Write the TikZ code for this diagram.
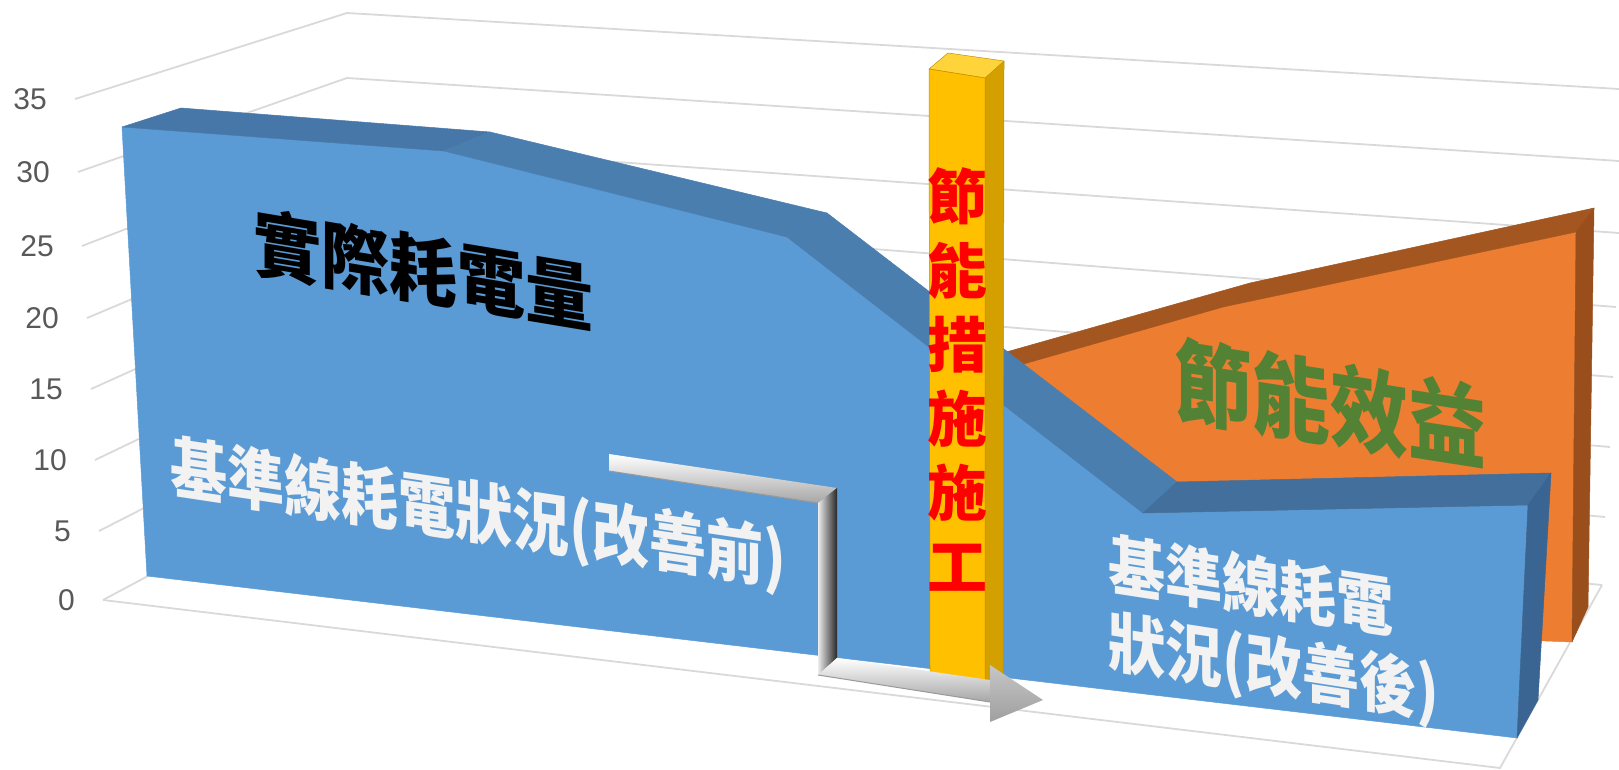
\documentclass[tikz,border=0pt]{standalone}
\usepackage{xcolor}
\usepackage{fontspec}
\usepackage{tikz}
\setmainfont{Liberation Sans}
\newfontfamily\cjk{Noto Sans CJK TC}
\definecolor{gridgray}{HTML}{D9D9D9}
\definecolor{axisgray}{HTML}{595959}
\definecolor{blueface}{HTML}{5B9BD5}
\definecolor{bluetopa}{HTML}{4677A8}
\definecolor{bluetopb}{HTML}{4A7EAF}
\definecolor{bluetopc}{HTML}{426F9B}
\definecolor{blueside}{HTML}{3A6592}
\definecolor{orangeface}{HTML}{ED7D31}
\definecolor{orangetop}{HTML}{A3561F}
\definecolor{orangeside}{HTML}{9A4E1B}
\definecolor{barface}{HTML}{FFC000}
\definecolor{barside}{HTML}{D4A000}
\definecolor{bartop}{HTML}{FFD43B}
\definecolor{baredge}{HTML}{BF9000}
\definecolor{savegreen}{HTML}{548235}
\definecolor{labelwhite}{HTML}{F2F2F2}
\tikzstyle{gridline} = [draw=gridgray, line width=1.8pt]
\tikzstyle{ticklabel} = [text=axisgray, font=\fontsize{30}{36}\selectfont,
    anchor=east, inner sep=0pt]
\tikzstyle{facet} = [line width=0.5pt, line join=round]
\tikzstyle{chartlabel} = [inner sep=0pt, align=left]
\tikzstyle{bartext} = [text=red, inner sep=0pt, align=center,
    font=\cjk\bfseries\fontsize{60}{74}\selectfont]

\begin{document}
\begin{tikzpicture}[x=1pt, y=-1pt]
    \useasboundingbox (0,0) rectangle (1619,770);
    \clip (0,0) rectangle (1619,770);
    % Walls and values
    \foreach \v/\xf/\yf/\xb/\yb/\xr/\yr in {35/75/99/347/13/1619/89,
        30/78/172/347/78/1619/161, 25/82/246/348/143/1619/233,
        20/87/318/348/208/1616/307, 15/91/389/349/273/1613/377,
        10/95/460/349/338/1610/447, 5/99/531/350/403/1605/517,
        0/103/600/350/468/1602/585} {
        \draw [gridline] (\xf,\yf) -- (\xb,\yb) -- (\xr,\yr);
        \node [ticklabel] (tick\v) at (\xf-28,\yf) {\v};
    }
    \coordinate (floorfl) at (103,600);
    \coordinate (floorfr) at (1500,768);
    \coordinate (floorbr) at (1602,585);
    \draw [gridline] (floorfl) -- (floorfr) -- (floorbr);

    % Back series
    \path [facet, fill=orangeface, draw=orangeface] (985,375) -- (1223,307) -- (1576,232) -- (1572,642) -- (1000,620) -- cycle;
    \path [facet, fill=orangetop, draw=orangetop] (985,358) -- (1250,283) -- (1594,208) -- (1576,232) -- (1223,307) -- (985,375) -- cycle;
    \path [facet, fill=orangeside, draw=orangeside] (1576,232) -- (1594,208) -- (1588,607) -- (1572,642) -- cycle;

    % Front series
    \path [facet, fill=blueface, draw=blueface] (122,127) -- (444,151) -- (787,237) -- (1143,513) -- (1528,505) -- (1517,738) -- (147,576) -- cycle;
    \path [facet, fill=bluetopa, draw=bluetopa] (122,127) -- (444,151) -- (490,132) -- (181,108) -- cycle;
    \path [facet, fill=bluetopb, draw=bluetopb] (444,151) -- (787,237) -- (827,213) -- (490,132) -- cycle;
    \path [facet, fill=bluetopb, draw=bluetopb] (787,237) -- (1143,513) -- (1177,482) -- (827,213) -- cycle;
    \path [facet, fill=bluetopc, draw=bluetopc] (1143,513) -- (1528,505) -- (1551,473) -- (1177,482) -- cycle;
    \path [facet, fill=blueside, draw=blueside] (1528,505) -- (1551,473) -- (1538,700) -- (1517,738) -- cycle;

    % Bar
    \path [facet, fill=barside, draw=baredge] (985,78) -- (1004,61) -- (1003,675) -- (985,683) -- cycle;
    \path [facet, fill=bartop, draw=baredge] (929,69) -- (948,53) -- (1004,61) -- (985,78) -- cycle;
    \path [facet, fill=barface, draw=baredge] (929,69) -- (985,78) -- (985,683) -- (930,673) -- cycle;
    \node [bartext] (measure) at (957,379) {節\\能\\措\\施\\施\\工};

    % Silver arrow
    \shade [top color=white, bottom color=gray!70] (609,454) -- (837,488) -- (818,503) -- (609,471) -- cycle;
    \draw [gray!80, line width=1pt] (609,471) -- (818,503);
    \shade [left color=gray!15, middle color=gray!60, right color=black!85] (818,503) -- (837,488) -- (837,658) -- (818,675) -- cycle;
    \shade [top color=white, bottom color=gray!70] (818,675) -- (837,658) -- (990,680) -- (990,702) -- cycle;
    \draw [gray!80, line width=1pt] (818,675) -- (990,702);
    \shade [top color=gray!45, middle color=white, bottom color=gray!75] (990,665) -- (1043,700) -- (990,722) -- cycle;

    % Labels
    \node [chartlabel, text=black, yslant=-0.167, yscale=1.09,
        font=\cjk\bfseries\fontsize{68}{80}\selectfont] (actual) at (423,270) {實際耗電量};
    \node [chartlabel, text=labelwhite, yslant=-0.15, yscale=1.18,
        font=\cjk\bfseries\fontsize{57}{70}\selectfont] (before) at (478,516) {基準線耗電狀況(改善前)};
    \node [chartlabel, text=savegreen, yslant=-0.157, yscale=1.18,
        font=\cjk\bfseries\fontsize{78}{90}\selectfont] (saving) at (1330,404) {節能效益};
    \node [chartlabel, text=labelwhite, yslant=-0.155, yscale=1.15,
        font=\cjk\bfseries\fontsize{57}{67}\selectfont] (after) at (1274,631) {基準線耗電\\狀況(改善後)};
\end{tikzpicture}
\end{document}
